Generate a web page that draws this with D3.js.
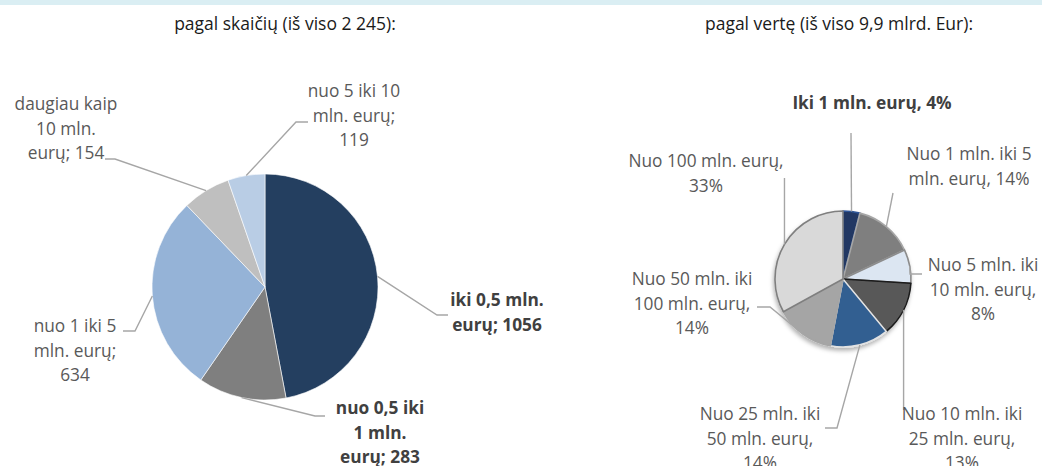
<!DOCTYPE html>
<html>
<head>
<meta charset="utf-8">
<script src="https://cdn.jsdelivr.net/npm/d3@7"></script>
<style>
  html, body { margin: 0; padding: 0; background: #fff; }
  svg { display: block; font-family: "Open Sans", "Noto Sans", sans-serif; }
</style>
</head>
<body>
<svg id="chart" width="1042" height="466"></svg>
<script>
// ---------- data ----------
const leftTitle = "pagal skaičių (iš viso 2 245):";
const leftCategories = ["iki 0,5 mln. eurų", "nuo 0,5 iki 1 mln. eurų", "nuo 1 iki 5 mln. eurų", "daugiau kaip 10 mln. eurų", "nuo 5 iki 10 mln. eurų"];
const leftValues = [1056, 283, 634, 154, 119];
const leftColors = ["#243f60", "#7f7f7f", "#95b3d7", "#bfbfbf", "#b9cde5"];
const leftBold = [true, true, false, false, false];

const rightTitle = "pagal vertę (iš viso 9,9 mlrd. Eur):";
const rightCategories = ["Iki 1 mln. eurų", "Nuo 1 mln. iki 5 mln. eurų", "Nuo 5 mln. iki 10 mln. eurų", "Nuo 10 mln. iki 25 mln. eurų", "Nuo 25 mln. iki 50 mln. eurų", "Nuo 50 mln. iki 100 mln. eurų", "Nuo 100 mln. eurų"];
const rightValues = [4, 14, 8, 13, 14, 14, 33];
const rightColors = ["#203864", "#7f7f7f", "#dce6f2", "#595959", "#335f91", "#a5a5a5", "#d9d9d9"];
const rightStrokes = ["#2f5597", "#a6a6a6", "#8c8c8c", "#1a1a1a", "#e3e3e3", "#a5a5a5", "#7f7f7f"];
const rightBold = [true, false, false, false, false, false, false];

// ---------- layout (positions/styles) ----------
const svg = d3.select("#chart");
const FONT = 17.3;
const LH = 24.5;
const leaderColor = "#a6a6a6";

svg.append("rect").attr("x", 0).attr("y", 0).attr("width", 1042).attr("height", 5).attr("fill", "#daeef3");

const defs = svg.append("defs");
const f = defs.append("filter").attr("id", "shadow").attr("x", "-20%").attr("y", "-20%").attr("width", "140%").attr("height", "140%");
f.append("feDropShadow").attr("dx", -1).attr("dy", 3).attr("stdDeviation", 2).attr("flood-color", "#000").attr("flood-opacity", 0.3);

// label layout: dx,dy relative to pie centre for label anchor (centre x, first baseline),
// words per line, and leader path elbow/end relative to centre
const leftLayout = [
  { lx: 232, ly: 19, lines: [3, 2], elbow: [172, 28], end: [183, 28] },
  { lx: 115, ly: 127, lines: [3, 2, 2], elbow: [50, 129], end: [60, 129] },
  { lx: -190, ly: 45, lines: [4, 2, 1], elbow: [-130, 44], end: [-142, 44] },
  { lx: -199, ly: -177, lines: [2, 2, 2], elbow: [-150, -128], end: [-160, -128] },
  { lx: 89, ly: -190, lines: [4, 2, 1], elbow: [31, -165], end: [43, -165] }
];
const rightLayout = [
  { lx: 29, ly: -170, lines: [5], elbow: null, end: [8, -146] },
  { lx: 126, ly: -119, lines: [5, 3], elbow: null, end: [50, -86] },
  { lx: 140, ly: -8, lines: [4, 3, 1], elbow: [67, -5], end: [79, -5] },
  { lx: 119, ly: 141, lines: [4, 3, 1], elbow: "v", end: [0, 131] },
  { lx: -83, ly: 141, lines: [4, 3, 1], elbow: [-6, 149], end: [-18, 149] },
  { lx: -151, ly: 6, lines: [4, 3, 1], elbow: [-73, 28], end: [-86, 28] },
  { lx: -137, ly: -112, lines: [4, 1], elbow: "v", end: [0, -101] }
];

function wrapLines(text, counts) {
  const words = text.split(" ");
  const out = []; let i = 0;
  counts.forEach(c => { out.push(words.slice(i, i + c).join(" ")); i += c; });
  return out;
}

function drawPie(cfg) {
  const g = svg.append("g");
  const pie = d3.pie().sort(null).value(d => d.v).startAngle(0).endAngle(2 * Math.PI);
  const data = cfg.categories.map((c, i) => ({ c, v: cfg.values[i], i }));
  const arcs = pie(data);
  const arc = d3.arc().innerRadius(0).outerRadius(cfg.r);

  const pg = g.append("g").attr("transform", `translate(${cfg.cx},${cfg.cy})`);
  if (cfg.shadow) pg.attr("filter", "url(#shadow)");
  pg.selectAll("path").data(arcs).join("path")
    .attr("d", arc)
    .attr("fill", d => cfg.colors[d.index])
    .attr("stroke", d => cfg.strokes ? cfg.strokes[d.index] : "#ffffff")
    .attr("stroke-width", cfg.strokes ? 1.6 : 0.6)
    .attr("stroke-linejoin", "round");

  // title
  g.append("text").attr("x", cfg.titleX).attr("y", 30)
    .attr("text-anchor", "middle").attr("font-size", 17.5).attr("fill", "#1a1a1a")
    .text(cfg.title);

  arcs.forEach((a, k) => {
    const L = cfg.layout[k];
    const mid = (a.startAngle + a.endAngle) / 2;
    const sx = cfg.cx + cfg.r * Math.sin(mid);
    const sy = cfg.cy - cfg.r * Math.cos(mid);
    let pts = [[sx, sy]];
    if (L.elbow === "v") {
      pts.push([sx, cfg.cy + L.end[1]]);
    } else if (L.elbow) {
      pts.push([cfg.cx + L.elbow[0], cfg.cy + L.elbow[1]]);
      pts.push([cfg.cx + L.end[0], cfg.cy + L.end[1]]);
    } else {
      pts.push([cfg.cx + L.end[0], cfg.cy + L.end[1]]);
    }
    g.append("path").attr("d", d3.line()(pts))
      .attr("fill", "none").attr("stroke", leaderColor).attr("stroke-width", 1.4);

    const full = cfg.labelText(a.data.c, a.data.v);
    const lines = wrapLines(full, L.lines);
    const t = g.append("text")
      .attr("text-anchor", "middle")
      .attr("font-size", FONT)
      .attr("font-weight", cfg.bold[k] ? 700 : 400)
      .attr("fill", cfg.bold[k] ? "#404040" : "#595959");
    lines.forEach((ln, j) => {
      t.append("tspan").attr("x", cfg.cx + L.lx).attr("y", cfg.cy + L.ly + j * LH).text(ln);
    });
  });
}

drawPie({
  cx: 265, cy: 287, r: 113,
  title: leftTitle, titleX: 285,
  categories: leftCategories, values: leftValues, colors: leftColors,
  bold: leftBold, layout: leftLayout,
  labelText: (c, v) => `${c}; ${v}`
});

drawPie({
  cx: 843, cy: 279, r: 68, shadow: true,
  title: rightTitle, titleX: 839,
  categories: rightCategories, values: rightValues, colors: rightColors, strokes: rightStrokes,
  bold: rightBold, layout: rightLayout,
  labelText: (c, v) => `${c}, ${v}%`
});
</script>
</body>
</html>
